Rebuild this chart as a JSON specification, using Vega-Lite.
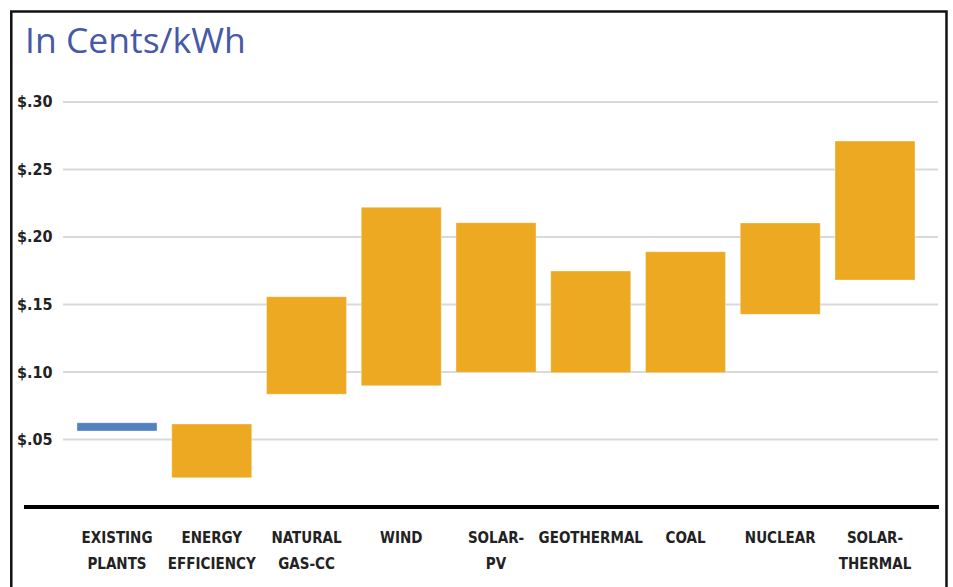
{
  "$schema": "https://vega.github.io/schema/vega-lite/v6.json",
  "width": 937,
  "height": 576,
  "autosize": {"type": "none"},
  "padding": {"left": 11, "top": 11, "right": 5, "bottom": 0},
  "background": "white",
  "config": {"view": {"stroke": null}},
  "datasets": {
    "costs": [
      {"source": "EXISTING|PLANTS", "low": 0.0563, "high": 0.0624, "group": "Existing"},
      {"source": "ENERGY|EFFICIENCY", "low": 0.0217, "high": 0.0615, "group": "New"},
      {"source": "NATURAL|GAS-CC", "low": 0.0835, "high": 0.1558, "group": "New"},
      {"source": "WIND", "low": 0.0899, "high": 0.222, "group": "New"},
      {"source": "SOLAR-|PV", "low": 0.0998, "high": 0.2106, "group": "New"},
      {"source": "GEOTHERMAL", "low": 0.0995, "high": 0.1748, "group": "New"},
      {"source": "COAL", "low": 0.0995, "high": 0.1891, "group": "New"},
      {"source": "NUCLEAR", "low": 0.1427, "high": 0.2104, "group": "New"},
      {"source": "SOLAR-|THERMAL", "low": 0.1681, "high": 0.2711, "group": "New"}
    ],
    "grid": [{"v": 0.05}, {"v": 0.1}, {"v": 0.15}, {"v": 0.2}, {"v": 0.25}, {"v": 0.3}]
  },
  "layer": [
    {
      "data": {"name": "grid"},
      "mark": {"type": "rule", "color": "#d9d9d9", "strokeWidth": 2},
      "encoding": {
        "x": {"datum": 0, "type": "quantitative", "scale": {"domain": [-0.059429, 1.011429], "nice": false, "zero": false}, "axis": null},
        "x2": {"datum": 1},
        "y": {"field": "v", "type": "quantitative", "title": null, "scale": {"domain": [-0.059259, 0.367407], "nice": false, "zero": false}}
      }
    },
    {
      "data": {"name": "costs"},
      "mark": {"type": "bar", "stroke": "#ffffff", "strokeOpacity": 0.35, "strokeWidth": 1},
      "encoding": {
        "x": {
          "field": "source", "type": "nominal", "sort": null, "title": null,
          "scale": {"paddingInner": 0.1557, "paddingOuter": 0.5225, "align": 0.6667},
          "axis": {
            "orient": "bottom", "offset": -80, "domain": false, "ticks": false, "tickSize": 0,
            "labelPadding": 23, "labelAngle": 0, "labelAlign": "center", "labelBaseline": "top",
            "labelExpr": "split(datum.label, '|')", "labelLineHeight": 26,
            "labelFont": "DejaVu Sans Condensed",
            "labelFontSize": 15, "labelFontWeight": "bold", "labelColor": "#222222", "grid": false
          }
        },
        "y": {
          "field": "low", "type": "quantitative", "title": null,
          "scale": {"domain": [-0.059259, 0.367407], "nice": false, "zero": false},
          "axis": {
            "values": [0.05, 0.1, 0.15, 0.2, 0.25, 0.3], "offset": -41, "domain": false, "ticks": false, "tickSize": 0,
            "labelPadding": 0, "grid": false,
            "labelExpr": "'$' + slice(format(datum.value, '.2f'), 1)",
            "labelFont": "DejaVu Sans Condensed",
            "labelFontSize": 16, "labelFontWeight": "bold", "labelColor": "#222222"
          }
        },
        "y2": {"field": "high"},
        "color": {"field": "group", "type": "nominal", "scale": {"domain": ["Existing", "New"], "range": ["#5181be", "#eea922"]}, "legend": null}
      }
    },
    {
      "data": {"values": [{"name": "baseline"}]},
      "mark": {"type": "rule", "color": "#000000", "strokeWidth": 4},
      "encoding": {
        "x": {"datum": -0.0446, "type": "quantitative", "scale": {"domain": [-0.059429, 1.011429], "nice": false, "zero": false}, "axis": null},
        "x2": {"datum": 1.0011},
        "y": {"datum": 0, "type": "quantitative"}
      }
    },
    {
      "data": {"values": [{"name": "frame"}]},
      "mark": {"type": "rect", "fillOpacity": 0, "stroke": "#111111", "strokeWidth": 2.5},
      "encoding": {
        "x": {"datum": -0.0591, "type": "quantitative", "scale": {"domain": [-0.059429, 1.011429], "nice": false, "zero": false}, "axis": null},
        "x2": {"datum": 1.0097},
        "y": {"datum": 0.367, "type": "quantitative"},
        "y2": {"datum": -0.1}
      }
    },
    {
      "data": {"values": [{"label": "In Cents/kWh"}]},
      "mark": {"type": "text", "align": "left", "baseline": "alphabetic", "font": "Open Sans", "fontSize": 35.5, "color": "#4658a6"},
      "encoding": {
        "x": {"datum": -0.0434, "type": "quantitative", "scale": {"domain": [-0.059429, 1.011429], "nice": false, "zero": false}, "axis": null},
        "y": {"datum": 0.3362, "type": "quantitative"},
        "text": {"field": "label", "type": "nominal"}
      }
    }
  ],
  "resolve": {"scale": {"x": "independent"}, "axis": {"x": "independent"}}
}
